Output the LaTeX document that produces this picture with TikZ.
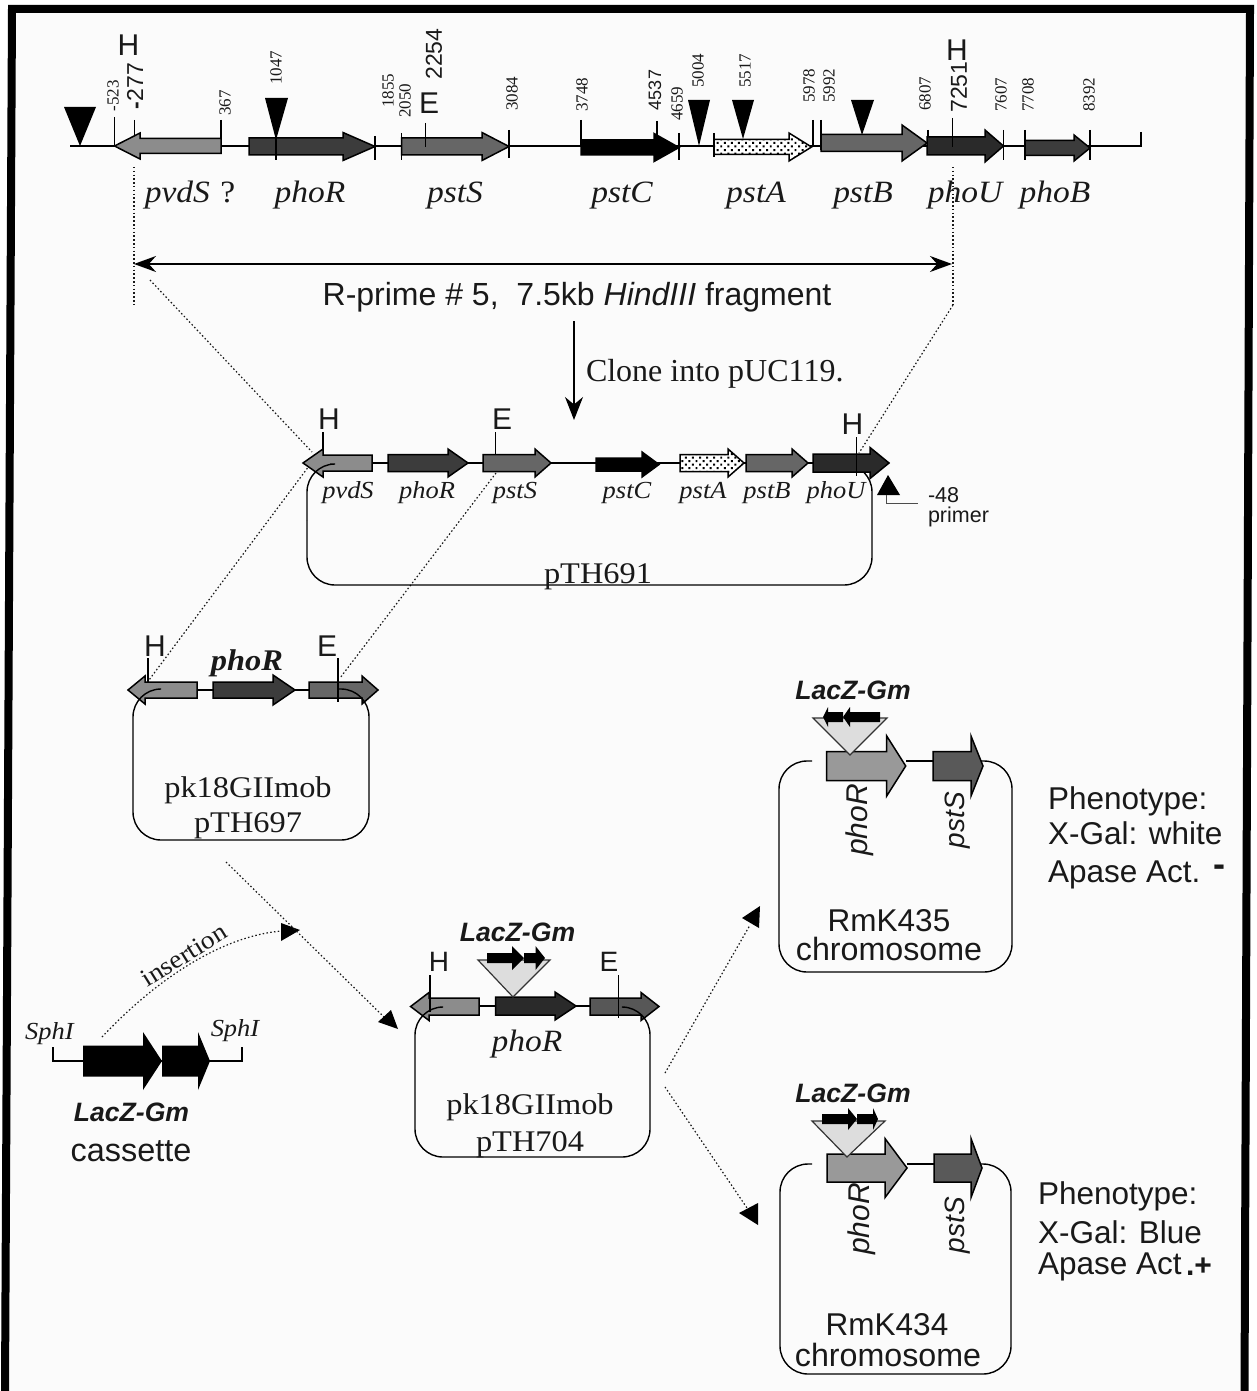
\documentclass[tikz,border=0pt]{standalone}
\usepackage{fontspec}
\setmainfont{Liberation Serif}
\setsansfont{Liberation Sans}
\newfontfamily\wser[FakeStretch=1.08]{Liberation Serif}
\usetikzlibrary{arrows.meta,patterns.meta}
\newcommand\tsz[1]{\fontsize{#1}{#1}\selectfont}
\definecolor{pageg}{HTML}{FBFBFB}
\definecolor{gpvd}{HTML}{8C8C8C}
\definecolor{gpho}{HTML}{3C3C3C}
\definecolor{gpst}{HTML}{666666}
\definecolor{gphoU}{HTML}{2A2A2A}
\definecolor{gmid}{HTML}{999999}
\definecolor{gtri}{HTML}{DDDDDD}
\tikzset{
  txt/.style={inner sep=0pt,outer sep=0pt,text=black!90},
  num/.style={txt,rotate=90,font=\tsz{17}},
  bignum/.style={txt,rotate=90,font=\sffamily\tsz{23}},
  site/.style={txt,font=\sffamily\tsz{30}},
  gname/.style={txt,font=\wser\itshape\tsz{31}},
  smname/.style={txt,font=\wser\itshape\tsz{24.5}},
  lacz/.style={txt,font=\sffamily\bfseries\itshape\tsz{26.6}},
  plasm/.style={txt,font=\wser\tsz{30}},
  sans/.style={txt,font=\sffamily\tsz{31.5}},
  rotg/.style={txt,rotate=90,font=\sffamily\itshape\tsz{28}},
  tick/.style={draw=black,line width=1.5pt},
  dna/.style={draw=black,line width=1.4pt},
  conn/.style={draw=black!90,line width=1.2pt,dash pattern=on 1.5pt off 2.3pt},
  box/.style={draw=black,line width=1.4pt,rounded corners=28pt},
  genef/.style={fill=#1,draw=black,line width=1.5pt,line join=miter},
  dotsf/.style={draw=black,line width=1.5pt,preaction={fill=white},pattern={Dots[radius=1.4pt,distance=5pt,angle=45]}},
  insertf/.style={fill=gtri,draw=black!80,line width=1.2pt},
}
% tail x, tip x, head-base x, centre y, body half, head half, style
\newcommand\gene[7]{\path[#7] ({#1},{#4-#5}) -- ({#3},{#4-#5}) -- ({#3},{#4-#6}) -- ({#2},{#4}) -- ({#3},{#4+#6}) -- ({#3},{#4+#5}) -- ({#1},{#4+#5}) -- cycle;}
\newcommand\vtick[3]{\draw[tick] ({#1},{#2}) -- ({#1},{#3});}
\begin{document}
\begin{tikzpicture}[x=1pt,y=-1pt]
\useasboundingbox (0,0) rectangle (1256,1391);
\fill[white] (0,0) rectangle (1256,1391);
\fill[pageg] (5,1391) -- (12,9) -- (1250,9) -- (1244.5,1391) -- cycle;
\draw[black,line width=8pt,line join=miter] (5,1391) -- (12,9) -- (1250,9) -- (1244.5,1391);

% ---- top map
\draw[dna] (70,146) -- (1142,146);
\vtick{1141}{132}{146}
\vtick{114.5}{117}{146}\vtick{134.5}{120}{135}\vtick{221}{120}{146}
\vtick{375}{136}{160}\vtick{401.5}{133}{160}\vtick{509}{130}{158}
\vtick{581}{120}{146}\vtick{657}{121}{140}\vtick{679}{133}{160}\vtick{714}{133}{157}
\vtick{813}{120}{146}\vtick{821}{120}{150}\vtick{928}{130}{155}\vtick{1003.5}{130}{160}
\vtick{1025}{130}{160}\vtick{1090}{130}{160}
\gene{221}{114.5}{140}{146}{7.5}{13}{genef=gpvd}
\gene{249}{375}{343}{146.5}{8.5}{14}{genef=gpho}
\gene{401.5}{509}{482}{146.5}{8.5}{14}{genef=gpst}
\gene{581}{679}{654}{147.5}{7.5}{14}{genef=black}
\gene{714}{811.5}{789}{147}{7.5}{14}{dotsf}
\gene{821}{927}{902}{143}{8.5}{18}{genef=gpst}
\gene{927}{1003.5}{985}{146}{9}{16}{genef=gphoU}
\gene{1025}{1090}{1074}{148}{7.5}{13}{genef=gpho}
\vtick{276}{120}{160}\vtick{425.7}{123}{147}\vtick{952.5}{118}{147}
\fill[black] (64,107) -- (96,107) -- (80,146) -- cycle;
\fill[black] (265,98) -- (288,98) -- (276,140) -- cycle;
\fill[black] (688,100) -- (710,100) -- (699,146) -- cycle;
\fill[black] (732,100) -- (754,100) -- (743,139) -- cycle;
\fill[black] (851,100) -- (874,100) -- (862,135) -- cycle;

\node[num] (n523) at (113,96) {-523};
\node[num] (n367) at (225,103) {367};
\node[num] (n1047) at (276,68) {1047};
\node[num] (n1855) at (388,91) {1855};
\node[num] (n2050) at (405,101) {2050};
\node[num] (n3084) at (512,94) {3084};
\node[num] (n3748) at (582,95) {3748};
\node[num] (n4659) at (677,104) {4659};
\node[num] (n5004) at (698,71) {5004};
\node[num] (n5517) at (745,71) {5517};
\node[num] (n5978) at (809,86) {5978};
\node[num] (n5992) at (829,86) {5992};
\node[num] (n6807) at (925,94) {6807};
\node[num] (n7607) at (1001,95) {7607};
\node[num] (n7708) at (1028,95) {7708};
\node[num] (n8392) at (1089,95) {8392};
\node[bignum] (n277) at (135,86) {\textbf{-}277};
\node[bignum] (n2254) at (434,54) {2254};
\node[bignum] (n7251) at (959,87) {7251};
\node[bignum,font=\sffamily\tsz{18}] (n4537) at (655,90) {4537};
\node[site] (hA) at (128.5,45) {H};
\node[site] (eA) at (429,103) {E};
\node[site] (hB) at (957,50) {H};

\node[gname] (lpvd) at (190,195.5) {pvdS\,\textup{\,?}};
\node[gname] (lpho) at (310,195.5) {phoR};
\node[gname] (lpst) at (455,195.5) {pstS};
\node[gname] (lpstc) at (622,195.5) {pstC};
\node[gname] (lpsta) at (756,195.5) {pstA};
\node[gname] (lpstb) at (863,195.5) {pstB};
\node[gname] (lphou) at (965,195.5) {phoU};
\node[gname] (lphob) at (1055,195.5) {phoB};

% ---- fragment
\coordinate (dl1) at (134,167); \coordinate (dl2) at (134,305);
\coordinate (dr1) at (953,167); \coordinate (dr2) at (953,305);
\draw[conn] (dl1) -- (dl2);
\draw[conn] (dr1) -- (dr2);
\draw[black,line width=1.5pt,{Stealth[length=22pt,width=16pt]}-{Stealth[length=22pt,width=16pt]}] (134,264) -- (952,264);
\node[txt,font=\sffamily\tsz{32}] (rprime) at (577,297) {R-prime \# 5,\ \ 7.5kb \textit{HindIII} fragment};
\coordinate (clonetop) at (574,321); \coordinate (cloneend) at (574,420);
\draw[black,line width=1.3pt,-{Stealth[length=23pt,width=18pt]}] (clonetop) -- (cloneend);
\node[txt,font=\tsz{32},anchor=west] (clone) at (586,374) {Clone into pUC119.};

% ---- pTH691
\coordinate (c1a) at (150,280); \coordinate (c1b) at (312,452);
\coordinate (c2a) at (953,305); \coordinate (c2b) at (859,453);
\coordinate (c3a) at (312,462); \coordinate (c3b) at (149,680);
\coordinate (c4a) at (496,473); \coordinate (c4b) at (340,678);
\draw[conn] (c1a) -- (c1b);
\draw[conn] (c2a) -- (c2b);
\draw[conn] (c3a) -- (c3b);
\draw[conn] (c4a) -- (c4b);
\draw[box] (307,520) -- (307,585) -- (872,585) -- (872,464) -- (850,464);
\draw[dna] (372,463) -- (813,463);
\vtick{323}{432}{460}\vtick{495.5}{432}{456}
\gene{372}{303}{323}{463}{8}{14}{genef=gpvd}
\gene{388}{468}{448}{463}{8.5}{14}{genef=gpho}
\gene{483}{551}{535}{463}{8.5}{14}{genef=gpst}
\gene{596}{659}{642}{464.5}{6.5}{12.5}{genef=black}
\gene{680}{744}{728}{463}{8.5}{14}{dotsf}
\gene{746}{808}{792}{463}{8.5}{14}{genef=gpst}
\gene{813}{889}{870}{463}{9}{15.5}{genef=gphoU}
\vtick{856.5}{437}{476}
\draw[box] (330,464) -- (307,464) -- (307,520);
\node[site] (h691a) at (329,419) {H};
\node[site] (e691) at (502,419) {E};
\node[site] (h691b) at (852.5,424) {H};
\node[smname] (s1) at (348,493) {pvdS};
\node[smname] (s2) at (427,493) {phoR};
\node[smname] (s3) at (515,493) {pstS};
\node[smname] (s4) at (627,493) {pstC};
\node[smname] (s5) at (703,493) {pstA};
\node[smname] (s6) at (767,493) {pstB};
\node[smname] (s7) at (836,493) {phoU};
\node[plasm] (p691) at (598,577) {pTH691};
\fill[black] (877,495) -- (900,495) -- (888,475) -- cycle;
\coordinate (prA) at (886,495); \coordinate (prB) at (918,503);
\draw[black!70,line width=0.9pt] (prA) |- (prB);
\node[txt,font=\sffamily\tsz{21.5},anchor=west] (m48) at (928,495) {-48};
\node[txt,font=\sffamily\tsz{21.5},anchor=west] (primer) at (928,517) {primer};

% ---- pTH697
\draw[dna] (197,690) -- (310,690);
\gene{197}{128}{145}{690}{8}{14}{genef=gpvd}
\gene{213}{295}{273}{690}{8}{15}{genef=gpho}
\gene{309}{378}{362}{690}{8}{14}{genef=gpst}
\vtick{148}{658}{682}\vtick{338}{658}{702}
\draw[box] (160,689) -- (133,689) -- (133,840) -- (369,840) -- (369,689) -- (338,689);
\node[site] (h697) at (155,646) {H};
\node[site] (e697) at (327,646) {E};
\node[lacz,font=\wser\bfseries\itshape\tsz{30}] (t697) at (247,663) {phoR};
\node[plasm] (p697a) at (248,790.5) {pk18GIImob};
\node[plasm] (p697b) at (248,826) {pTH697};

% ---- cassette
\coordinate (sA) at (53,1047); \coordinate (sB) at (242,1047);
\draw[black,line width=1.2pt] (sA) |- (sB |- 0,1061) -- (sB);
\gene{83}{162}{143}{1061}{15.5}{29}{fill=black}
\gene{162}{210}{198}{1061}{15.5}{29}{fill=black}
\node[txt,font=\wser\itshape\tsz{24.5}] (sph1) at (49.5,1034) {SphI};
\node[txt,font=\wser\itshape\tsz{24.5}] (sph2) at (235,1031) {SphI};
\node[lacz] (lz0) at (131.5,1112) {LacZ-Gm};
\node[txt,font=\sffamily\tsz{32.4}] (cass) at (131,1151) {cassette};
\coordinate (insA) at (102,1037); \coordinate (insB) at (282,931);
\draw[conn] (insA) .. controls (165,970) and (230,935) .. (insB);
\fill[black] (281,923) -- (300,930) -- (281,941) -- cycle;
\node[txt,font=\wser\tsz{25.5},rotate=32] (ins) at (184,955) {insertion};
\coordinate (qA) at (226,862); \coordinate (qB) at (384,1017);
\draw[conn] (qA) -- (qB);
\fill[black] (398,1029) -- (378,1022) -- (391,1010) -- cycle;

% ---- pTH704
\draw[dna] (479,1006) -- (590,1006);
\gene{479}{410.6}{429}{1006.5}{8.5}{14}{genef=gpvd}
\gene{495.6}{576}{555}{1006}{9}{14}{genef=gphoU}
\gene{590}{659}{641}{1006.5}{8.5}{14}{genef=gpst!85!black}
\vtick{430}{975}{1012}\vtick{618.5}{975}{1018}
\draw[box] (440,1007) -- (415,1007) -- (415,1157) -- (650,1157) -- (650,1007) -- (625,1007);
\path[insertf] (478,960) -- (550,960) -- (513,997) -- cycle;
\gene{487}{524}{512}{958}{5}{12}{fill=black}
\gene{524}{545}{535.5}{958}{5}{12}{fill=black}
\node[site,font=\sffamily\tsz{28}] (h704) at (439,962) {H};
\node[site,font=\sffamily\tsz{28}] (e704) at (609,962) {E};
\node[lacz] (lz704) at (517.5,932) {LacZ-Gm};
\node[gname] (p704g) at (527,1044) {phoR};
\node[plasm] (p704a) at (530,1107) {pk18GIImob};
\node[plasm] (p704b) at (530,1145) {pTH704};

% ---- branches
\coordinate (bA) at (665,1073); \coordinate (bB) at (750,925);
\coordinate (bC) at (665,1087); \coordinate (bD) at (747,1208);
\draw[conn] (bA) -- (bB);
\draw[conn] (bC) -- (bD);
\fill[black] (760,906) -- (759,928) -- (742,918) -- cycle;
\fill[black] (758,1203) -- (758,1225) -- (739,1213) -- cycle;

% ---- RmK435
\draw[box] (812,761) -- (779,761) -- (779,972) -- (1012,972) -- (1012,761) -- (975,761);
\node[rotg,font=\sffamily\itshape\tsz{30}] (rg1) at (860,820) {phoR};
\node[rotg] (rg2) at (958,820) {pstS};
\draw[dna] (906,761) -- (933,761);
\gene{826.7}{905.7}{886.7}{766}{14.5}{30}{genef=gmid}
\gene{933}{983}{971}{766}{14.5}{30}{genef=gpho!85!white}
\path[insertf] (813,718) -- (887,718) -- (850,755) -- cycle;
\gene{843}{823}{828}{717}{5}{10}{fill=black}
\gene{880}{843}{850}{717}{5}{10}{fill=black}
\node[lacz] (lz435) at (853,690) {LacZ-Gm};
\node[sans] (r435) at (889,921) {RmK435};
\node[sans,font=\sffamily\tsz{32.2}] (c435) at (889,949) {chromosome};
\node[sans,anchor=west] (ph1) at (1048,801) {Phenotype:};
\node[sans,anchor=west] (ph2) at (1048,833) {X-Gal: white};
\node[sans,anchor=west] (ph3) at (1048,875) {Apase Act.};
\node[sans,font=\sffamily\bfseries\tsz{36}] (ph4) at (1219,871) {-};

% ---- RmK434
\draw[box] (812,1164) -- (780,1164) -- (780,1374) -- (1011,1374) -- (1011,1164) -- (975,1164);
\node[rotg,font=\sffamily\itshape\tsz{30}] (rg3) at (862,1219) {phoR};
\node[rotg] (rg4) at (958,1225) {pstS};
\draw[dna] (907,1164) -- (934,1164);
\gene{827}{907}{885}{1168}{14}{29.5}{genef=gmid}
\gene{934}{982}{971}{1168}{14}{29.5}{genef=gpho!85!white}
\path[insertf] (812,1121) -- (885,1121) -- (847,1157) -- cycle;
\gene{822}{857}{848}{1119}{5}{11}{fill=black}
\gene{857}{878}{873}{1119}{5}{11}{fill=black}
\node[lacz] (lz434) at (853,1093) {LacZ-Gm};
\node[sans] (r434) at (887,1325) {RmK434};
\node[sans,font=\sffamily\tsz{32.2}] (c434) at (888,1355) {chromosome};
\node[sans,anchor=west] (ph5) at (1038,1196) {Phenotype:};
\node[sans,anchor=west] (ph6) at (1038,1232) {X-Gal: Blue};
\node[sans,anchor=west] (ph7) at (1038,1267) {Apase Act};
\node[sans,font=\sffamily\bfseries\tsz{30},anchor=west] (ph8) at (1186,1267) {.+};
\end{tikzpicture}
\end{document}
